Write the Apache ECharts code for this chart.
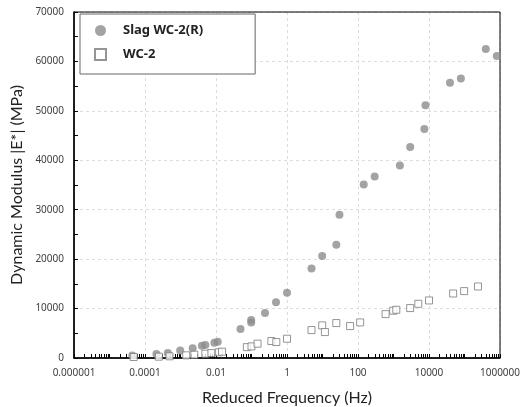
<!DOCTYPE html>
<html>
<head>
<meta charset="utf-8">
<script src="https://cdn.jsdelivr.net/npm/echarts@6/dist/echarts.min.js"></script>
<style>
  html, body { margin: 0; padding: 0; background: #fff; }
  #chart { width: 528px; height: 407px; }
</style>
</head>
<body>
<div id="chart"></div>
<script>
// Slag WC-2(R): reduced frequency (Hz) and |E*| (MPa)
const slagFreq = [
  4.4e-5, 2.1e-4, 4.4e-4, 9.8e-4, 2.2e-3, 4.0e-3, 5.0e-3, 9.0e-3, 1.12e-2,
  4.9e-2, 9.8e-2, 9.8e-2, 0.24, 0.49, 1.0, 4.9, 9.8, 24.5, 30, 145, 295,
  1510, 2950, 7400, 7950, 39000, 79000, 398000, 813000
];
const slagModulus = [
  500, 800, 1000, 1500, 1950, 2500, 2650, 3100, 3300,
  5850, 7200, 7700, 9100, 11300, 13200, 18100, 20650, 22900, 29000, 35100, 36700,
  38950, 42700, 46350, 51150, 55700, 56550, 62500, 61100
];

// WC-2
const wcFreq = [
  4.8e-5, 2.45e-4, 4.9e-4, 1.45e-3, 2.45e-3, 5.0e-3, 7.4e-3, 1.2e-2, 1.48e-2,
  7.4e-2, 0.1, 0.148, 0.363, 0.5, 1.0, 4.9, 9.8, 11.7, 24.5, 60, 115,
  600, 980, 1200, 2950, 5000, 10000, 47900, 97700, 240000
];
const wcModulus = [
  200, 270, 340, 540, 670, 870, 1000, 1150, 1280,
  2200, 2350, 2900, 3430, 3230, 3900, 5650, 6600, 5250, 7070, 6460, 7200,
  8880, 9560, 9760, 10100, 10970, 11640, 13050, 13530, 14470
];

const xTickLabels = ['0.000001', '0.0001', '0.01', '1', '100', '10000', '1000000'];
const yTicks = [0, 10000, 20000, 30000, 40000, 50000, 60000, 70000];

// log minor tick positions (1..9 x 10^k)
const minorTickValues = [];
for (let k = -6; k < 6; k++) {
  for (let m = 1; m < 10; m++) {
    minorTickValues.push(Number((m * Math.pow(10, k)).toPrecision(3)));
  }
}
minorTickValues.push(1e6);

const chart = echarts.init(document.getElementById('chart'));
const labelColor = '#404040';
const tickFont = 'Noto Sans, DejaVu Sans, sans-serif';
const titleFont = 'Lato, Noto Sans, sans-serif';

chart.setOption({
  animation: false,
  backgroundColor: '#fff',
  grid: {
    left: 74, right: 28, top: 12, bottom: 49,
    outerBoundsMode: 'none',
    show: true, borderColor: '#000', borderWidth: 1, z: 1
  },
  legend: {
    orient: 'vertical',
    left: 80, top: 14,
    padding: [10, 52, 13, 14],
    itemGap: 11,
    itemWidth: 11,
    itemHeight: 11,
    borderColor: '#666',
    borderWidth: 1,
    backgroundColor: '#fff',
    textStyle: {
      fontFamily: tickFont, fontSize: 13, fontWeight: 'bold', color: '#222',
      padding: [0, 0, 0, 12]
    },
    data: [
      { name: 'Slag WC-2(R)', icon: 'circle' },
      { name: 'WC-2', icon: 'rect' }
    ]
  },
  xAxis: [
    {
      type: 'log',
      logBase: 10,
      min: 1e-6,
      max: 1e6,
      interval: 2,
      name: 'Reduced Frequency (Hz)',
      nameLocation: 'middle',
      nameGap: 32,
      nameTextStyle: { fontFamily: titleFont, fontSize: 16, color: '#222' },
      axisLine: { onZero: false, lineStyle: { color: '#000', width: 1.5 } },
      axisTick: { show: false },
      axisLabel: {
        margin: 10,
        fontFamily: tickFont, fontSize: 10, color: labelColor,
        formatter: function (v) {
          const idx = Math.round((Math.log10(v) + 6) / 2);
          return xTickLabels[idx] || '';
        }
      },
      splitLine: { show: true, lineStyle: { color: '#dcdcdc', type: [3, 3], width: 1 } }
    },
    {
      type: 'log',
      logBase: 10,
      min: 1e-6,
      max: 1e6,
      position: 'bottom',
      axisLine: { show: false },
      axisLabel: { show: false },
      splitLine: { show: false },
      axisTick: {
        show: true, inside: true, length: 4,
        customValues: minorTickValues,
        lineStyle: { color: '#000', width: 1 }
      }
    }
  ],
  yAxis: {
    type: 'value',
    min: yTicks[0],
    max: yTicks[yTicks.length - 1],
    interval: 10000,
    name: 'Dynamic Modulus |E*| (MPa)',
    nameLocation: 'middle',
    nameGap: 44,
    nameTextStyle: { fontFamily: titleFont, fontSize: 16, color: '#222' },
    axisLine: { show: true, lineStyle: { color: '#000', width: 1.5 } },
    axisTick: { show: true, inside: true, length: 4, lineStyle: { color: '#000' } },
    minorTick: { show: true, splitNumber: 2, length: 4, lineStyle: { color: '#000' } },
    axisLabel: {
      margin: 10, fontFamily: tickFont, fontSize: 10, color: labelColor,
      formatter: function (v) { return String(v); }
    },
    splitLine: { show: true, lineStyle: { color: '#dcdcdc', type: [3, 3], width: 1 } }
  },
  series: [
    {
      name: 'Slag WC-2(R)',
      type: 'scatter',
      symbol: 'circle',
      symbolSize: 8,
      itemStyle: { color: '#8c8c8c' },
      data: slagFreq.map((f, i) => [f, slagModulus[i]])
    },
    {
      name: 'WC-2',
      type: 'scatter',
      symbol: 'rect',
      symbolSize: 7,
      itemStyle: { color: '#fff', borderColor: '#7a7a7a', borderWidth: 1 },
      data: wcFreq.map((f, i) => [f, wcModulus[i]])
    }
  ]
});
</script>
</body>
</html>
